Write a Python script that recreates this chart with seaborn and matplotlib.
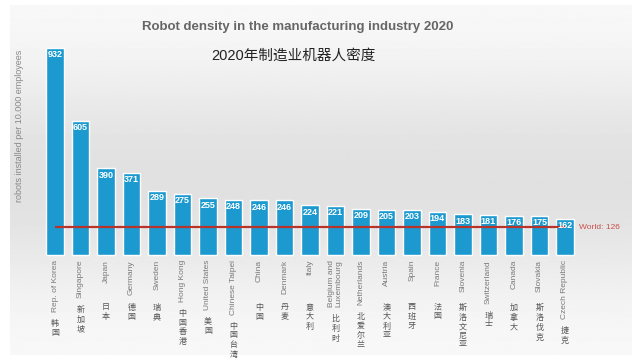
import numpy as np
import pandas as pd
import matplotlib
matplotlib.use("Agg")
import matplotlib.pyplot as plt
import seaborn as sns

# data
countries = ["Rep. of Korea", "Singapore", "Japan", "Germany", "Sweden", "Hong Kong",
             "United States", "Chinese Taipei", "China", "Denmark", "Italy",
             "Belgium and\nLuxembourg", "Netherlands", "Austria", "Spain", "France",
             "Slovenia", "Switzerland", "Canada", "Slovakia", "Czech Republic"]
countries_cn = ["韩国", "新加坡", "日本", "德国", "瑞典", "中国香港", "美国", "中国台湾",
                "中国", "丹麦", "意大利", "比利时", "北爱尔兰", "澳大利亚", "西班牙", "法国",
                "斯洛文尼亚", "瑞士", "加拿大", "斯洛伐克", "捷克"]
density = [932, 605, 390, 371, 289, 275, 255, 248, 246, 246, 224,
           221, 209, 205, 203, 194, 183, 181, 176, 175, 162]
world = 126

sns.set_theme(style="white")
plt.rcParams["font.family"] = ["Liberation Sans", "Noto Sans CJK SC", "DejaVu Sans"]

df = pd.DataFrame({"country": countries, "density": density})

fig = plt.figure(figsize=(6.4, 3.6), dpi=100, facecolor="white")
ax = fig.add_axes([10 / 640, 5 / 360, 622 / 640, 350 / 360])

# light grey gradient panel
grad = np.linspace(0, 1, 256).reshape(-1, 1)
grad = 0.97 - 0.09 * np.sin(np.pi * grad) ** 2
ax.imshow(grad, cmap="gray", vmin=0, vmax=1, aspect="auto",
          extent=[0, 1, 0, 1], transform=ax.transAxes, zorder=0)

sns.barplot(data=df, x="country", y="density", color="#1c9ad0", saturation=1,
            width=0.68, ax=ax, zorder=2)

ax.set_xlim(-1.765, 22.63)
ax.set_ylim(-450, 1126)
ax.set_xticks([])
ax.set_yticks([])
ax.set_xlabel("")
ax.set_ylabel("")
for s in ax.spines.values():
    s.set_visible(False)

for i, v in enumerate(density):
    ax.text(i, v - 10, str(v), ha="center", va="top", color="white",
            fontsize=6.5, fontweight="bold", zorder=4)

ax.hlines(world, 0, len(density) - 1, color="#b8332a", lw=1.6, zorder=3)
ax.text(len(density) - 0.45, world, "World: 126", color="#c8504a", fontsize=6,
        va="center", ha="left", zorder=4)

eng = []
for i, c in enumerate(countries):
    t = ax.text(i, -22, c, rotation=90, ha="center", va="top", color="#7a7a7a",
                fontsize=6, linespacing=1.0, zorder=4)
    eng.append(t)

# chinese names go under the english ones
fig.canvas.draw()
r = fig.canvas.get_renderer()
inv = ax.transData.inverted()
for i, (t, cn) in enumerate(zip(eng, countries_cn)):
    bb = t.get_window_extent(r)
    ybot = inv.transform((0, bb.y0))[1]
    ytop = min(ybot - 36, -221)
    ax.text(i, ytop, "\n".join(cn), ha="center", va="top", color="#555555",
            fontsize=5.8, linespacing=1.3, zorder=4)

fig.text(298 / 640, 1 - 27 / 360, "Robot density in the manufacturing industry 2020",
         ha="center", va="center", fontsize=9.5, fontweight="bold", color="#666666")
fig.text(293 / 640, 1 - 56 / 360, "2020年制造业机器人密度", ha="center", va="center",
         fontsize=10.5, color="#222222")
fig.text(20 / 640, 1 - 126 / 360, "robots installed per 10.000 employees", rotation=90,
         ha="center", va="center", fontsize=6.5, color="#888888")

fig.savefig("out.png", dpi=100, facecolor="white")
